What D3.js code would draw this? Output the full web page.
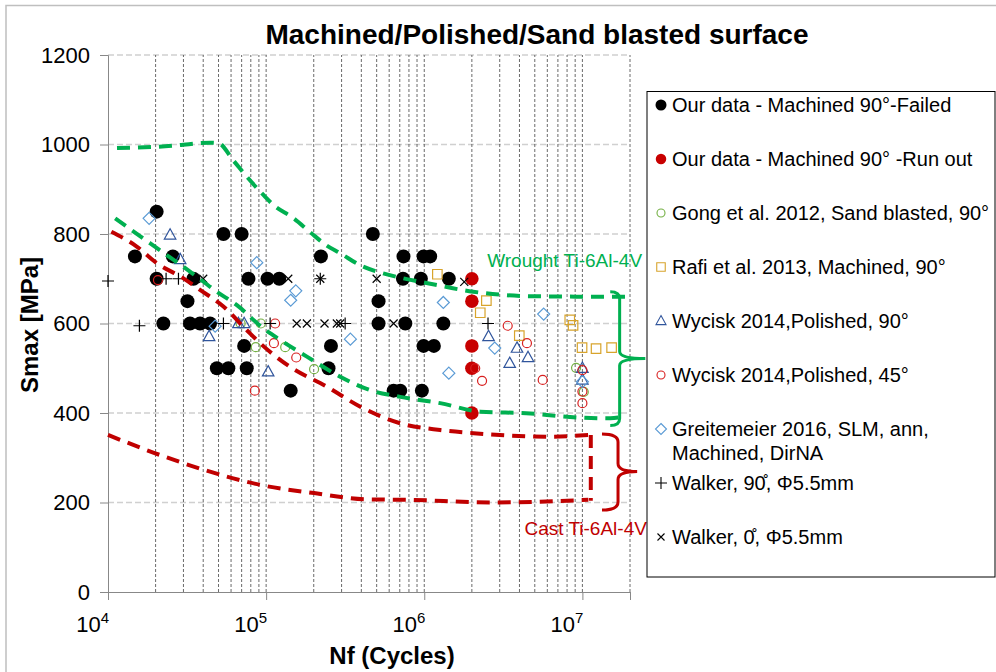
<!DOCTYPE html>
<html><head><meta charset="utf-8">
<script src="https://cdn.jsdelivr.net/npm/d3@7"></script>
<style>body{margin:0;background:#fff} svg{display:block;font-family:"Liberation Sans",Arial,sans-serif}</style>
</head><body><svg id="c" width="996" height="672"></svg>
<script>
// ---------- data (cycles, MPa) ----------
const ourFailed = [[2.03e4,850],[5.37e4,800],[7.0e4,800],[4.73e5,800],[1.48e4,750],[2.57e4,750],[2.22e5,750],[7.39e5,750],[9.9e5,750],[1.09e6,750],[2.03e4,700],[3.47e4,700],[7.73e4,700],[1.02e5,700],[1.21e5,700],[7.33e5,700],[9.52e5,700],[1.43e6,700],[3.18e4,650],[5.14e5,650],[2.24e4,600],[3.30e4,600],[3.82e4,600],[4.42e4,600],[5.14e5,600],[7.59e5,600],[1.32e6,600],[7.26e4,550],[2.57e5,550],[9.9e5,550],[1.15e6,550],[4.88e4,500],[5.77e4,500],[7.54e4,500],[2.48e5,500],[1.43e5,450],[6.4e5,450],[7.05e5,450],[9.66e5,450]];
const ourRunOut = [[2.0e6,700],[2.0e6,650],[2.0e6,550],[2.0e6,500],[2.0e6,400]];
const gong2012 = [[6.9e4,600],[9.25e4,600],[8.6e4,547],[1.32e5,547],[2.01e5,498],[9.12e6,501],[1.02e7,447]];
const rafi2013 = [[1.21e6,710],[2.47e6,651],[2.26e6,624],[3.99e6,573],[8.32e6,608],[8.73e6,596],[9.95e6,546],[1.22e7,544],[1.53e7,546]];
const wycisk90 = [[2.47e4,798],[2.86e4,743],[4.36e4,571],[6.68e4,600],[7.26e4,600],[1.03e5,492],[2.55e6,571],[3.86e6,545],[3.47e6,511],[4.53e6,524],[1.0e7,500],[1.0e7,474]];
const wycisk45 = [[2.07e4,697],[8.48e4,450],[1.14e5,600],[1.12e5,556],[1.55e5,524],[2.1e6,500],[2.32e6,472],[3.37e6,595],[4.46e6,556],[5.61e6,474],[1.0e7,496],[1.0e7,448],[1.0e7,422]];
const greitemeier2016 = [[1.82e4,835],[8.73e4,736],[4.76e4,594],[1.54e5,673],[1.43e5,652],[3.41e5,565],[1.32e6,647],[1.43e6,489],[2.79e6,545],[5.69e6,621],[1.0e7,470]];
const walker90 = [[1.0e4,695],[1.58e4,595],[2.33e4,700],[2.79e4,700],[5.37e4,600],[1.06e5,600],[2.2e5,700],[3.16e5,600],[2.53e6,600]];
const walker0 = [[4.0e4,700],[1.38e5,700],[2.2e5,700],[5.0e5,700],[1.79e6,693],[1.56e5,600],[1.81e5,600],[2.34e5,600],[2.8e5,600],[2.94e5,600],[6.4e5,600]];

// envelope curves
const wroughtUpper = [[1.14e4,992],[2.3e4,996],[4.43e4,1004],[4.99e4,1003],[6.18e4,965],[7.55e4,928],[9.86e4,883],[1.11e5,865],[1.48e5,836],[1.9e5,804],[2.42e5,774],[2.94e5,757],[3.94e5,730],[5.5e5,712],[7.36e5,701],[1.05e6,690],[2.04e6,671],[4.69e6,661],[1.08e7,660],[1.95e7,660]];
const wroughtLower = [[1.11e4,835],[1.85e4,779],[2.35e4,753],[3.3e4,716],[4.88e4,671],[6.53e4,641],[9.61e4,589],[1.23e5,563],[1.81e5,526],[2.94e5,481],[4.55e5,451],[7.05e5,436],[1.26e6,422],[2.26e6,403],[4.69e6,399],[7.6e6,392],[1.5e7,388],[1.82e7,392]];
const castUpper = [[1.05e4,805],[1.52e4,772],[2.03e4,735],[3.0e4,701],[3.82e4,675],[5.37e4,638],[7.55e4,585],[9.16e4,556],[1.42e5,503],[2.42e5,459],[3.94e5,414],[7.05e5,377],[1.26e6,362],[2.05e6,355],[5.98e6,347],[1.13e7,351]];
const castRight = [[1.13e7,351],[1.13e7,204]];
const castLower = [[1.0e4,351],[1.99e4,310],[4.05e4,273],[9.29e4,239],[2.01e5,221],[4.36e5,207],[7.93e5,206],[2.62e6,200],[1.09e7,206]];

const yTicks = [0,200,400,600,800,1000,1200];
const xDecades = [1e4,1e5,1e6,1e7];
const xExp = ["4","5","6","7"];

const legendLabels = [
  ["Our data - Machined 90°-Failed"],
  ["Our data - Machined 90° -Run out"],
  ["Gong et al. 2012, Sand blasted, 90°"],
  ["Rafi et al. 2013, Machined, 90°"],
  ["Wycisk 2014,Polished, 90°"],
  ["Wycisk 2014,Polished, 45°"],
  ["Greitemeier 2016, SLM, ann,","Machined, DirNA"],
  ["Walker, 90\u030A, Φ5.5mm"],
  ["Walker, 0\u030A, Φ5.5mm"]
];

// ---------- setup ----------
const svg = d3.select("#c");
const x = d3.scaleLog().domain([1e4, 2e7]).range([108, 630]);
const y = d3.scaleLinear().domain([0, 1200]).range([592, 55]);

// chart border
svg.append("rect").attr("x",6).attr("y",5.5).attr("width",1100).attr("height",800)
  .attr("fill","none").attr("stroke","#bfbfbf").attr("stroke-width",1.5);

// title
svg.append("text").attr("x",537).attr("y",44).attr("text-anchor","middle")
  .attr("font-size",28).attr("font-weight","bold").text("Machined/Polished/Sand blasted surface");

// gridlines
const vgrid = [];
for (let k=4;k<=7;k++) for (let m=1;m<=9;m++){ const v=m*Math.pow(10,k); if (v<=2e7*1.0001) vgrid.push(v); }
svg.append("g").selectAll("line").data(yTicks.filter(d=>d>0)).join("line")
  .attr("x1",x(1e4)).attr("x2",x(2e7)).attr("y1",d=>y(d)).attr("y2",d=>y(d))
  .attr("stroke","#d0d0d0").attr("stroke-width",1.5).attr("stroke-dasharray","6,3");
svg.append("g").selectAll("line").data(vgrid.filter(d=>d>1e4)).join("line")
  .attr("x1",d=>x(d)).attr("x2",d=>x(d)).attr("y1",y(0)).attr("y2",y(1200))
  .attr("stroke","#444").attr("stroke-width",0.8).attr("stroke-dasharray","3,2");

// axes
const gy = svg.append("g").attr("transform",`translate(${x(1e4)},0)`)
  .call(d3.axisLeft(y).tickValues(yTicks).tickSize(8).tickPadding(10).tickFormat(d3.format("d")));
gy.select(".domain").attr("stroke","#888");
gy.selectAll(".tick line").attr("stroke","#888");
gy.selectAll(".tick text").attr("font-size",22).attr("fill","#000").attr("font-family","Liberation Sans, Arial, sans-serif");

const gx = svg.append("g").attr("transform",`translate(0,${y(0)})`)
  .call(d3.axisBottom(x).tickValues(xDecades.concat([2e7])).tickSize(8).tickFormat(""));
gx.select(".domain").attr("stroke","#888");
gx.selectAll(".tick line").attr("stroke","#888");
const xl = svg.append("g").selectAll("text").data(xDecades).join("text")
  .attr("x",d=>x(d)+1).attr("y",632).attr("text-anchor","end").attr("font-size",22);
xl.append("tspan").text("10");
xl.append("tspan").attr("font-size",15).attr("dy",-9).text((d,i)=>xExp[i]);

// axis titles
svg.append("text").attr("transform",`translate(38,325) rotate(-90)`).attr("text-anchor","middle")
  .attr("font-size",24).attr("font-weight","bold").text("Smax [MPa]");
svg.append("text").attr("x",392).attr("y",664).attr("text-anchor","middle")
  .attr("font-size",24).attr("font-weight","bold").text("Nf (Cycles)");

// marker shapes
const shapes = {
  triangle: s => { const h=s*0.9; return `M0,${-h*0.6}L${s/2},${h*0.4}L${-s/2},${h*0.4}Z`; },
  diamond: s => `M0,${-s/2}L${s/2},0L0,${s/2}L${-s/2},0Z`,
  square: s => `M${-s/2},${-s/2}h${s}v${s}h${-s}Z`,
  plus: s => `M${-s/2},0H${s/2}M0,${-s/2}V${s/2}`,
  times: s => `M${-s/2},${-s/2}L${s/2},${s/2}M${s/2},${-s/2}L${-s/2},${s/2}`,
  circle: s => { const r=s/2; return `M${r},0A${r},${r} 0 1,1 ${-r},0A${r},${r} 0 1,1 ${r},0Z`; }
};
const series = [
  {data:ourFailed, shape:"circle", size:14, color:"#000", fill:true, lsize:11},
  {data:ourRunOut, shape:"circle", size:13.5, color:"#c80000", fill:true, lsize:10.5},
  {data:gong2012, shape:"circle", size:9, color:"#74b044", fill:false, lsize:8},
  {data:rafi2013, shape:"square", size:9.5, color:"#d8a42c", fill:false, lsize:8.5},
  {data:wycisk90, shape:"triangle", size:11.5, color:"#30559c", fill:false, lsize:10},
  {data:wycisk45, shape:"circle", size:9, color:"#d82020", fill:false, lsize:8},
  {data:greitemeier2016, shape:"diamond", size:12, color:"#5b9bd5", fill:false, lsize:11},
  {data:walker90, shape:"plus", size:12, color:"#000", fill:false, lsize:12},
  {data:walker0, shape:"times", size:8, color:"#000", fill:false, lsize:7}
];
const gm = svg.append("g");
series.forEach(s => {
  gm.append("g").selectAll("path").data(s.data).join("path")
    .attr("transform",d=>`translate(${x(d[0])},${y(d[1])})`)
    .attr("d",shapes[s.shape](s.size))
    .attr("fill",s.fill?s.color:"none").attr("stroke",s.color)
    .attr("stroke-width",s.fill?0:1.2);
});

// envelope curves
const line = d3.line().x(d=>x(d[0])).y(d=>y(d[1])).curve(d3.curveMonotoneX);
const lineV = d3.line().x(d=>x(d[0])).y(d=>y(d[1]));
const green = "#00b050", red = "#c00000";
[[wroughtUpper,green,line],[wroughtLower,green,line],[castUpper,red,line],[castRight,red,lineV],[castLower,red,line]].forEach(([d,c,l])=>{
  svg.append("path").attr("d",l(d)).attr("fill","none").attr("stroke",c)
    .attr("stroke-width",4).attr("stroke-dasharray","13,8");
});

// braces
function brace(xl, xm, xt, yt, ym, yb, r, color){
  const X=x(xl), M=x(xm), T=x(xt), YT=y(yt), YM=y(ym), YB=y(yb);
  const p = `M${X},${YT}Q${M},${YT} ${M},${YT+r}L${M},${YM-r}Q${M},${YM} ${T},${YM}`+
            `M${T},${YM}Q${M},${YM} ${M},${YM+r}L${M},${YB-r}Q${M},${YB} ${X},${YB}`;
  svg.append("path").attr("d",p).attr("fill","none").attr("stroke",color).attr("stroke-width",3);
}
brace(1.5e7,1.72e7,2.5e7,671,522,372,7,green);
brace(1.33e7,1.68e7,2.22e7,353,269,183,8,red);

// annotation texts
svg.append("text").attr("x",x(2.5e6)).attr("y",y(727)).attr("font-size",19).attr("fill",green).text("Wrought Ti-6Al-4V");
svg.append("text").attr("x",x(4.3e6)).attr("y",y(127)).attr("font-size",19).attr("fill",red).text("Cast Ti-6Al-4V");

// legend
const lg = svg.append("g");
lg.append("rect").attr("x",647).attr("y",91.5).attr("width",348).attr("height",485.5)
  .attr("fill","#fff").attr("stroke","#000").attr("stroke-width",1);
const rowY = [105,159,213,267,321,375,429,483,537];
series.forEach((s,i)=>{
  lg.append("path").attr("transform",`translate(661,${rowY[i]})`)
    .attr("d",shapes[s.shape](s.lsize))
    .attr("fill",s.fill?s.color:"none").attr("stroke",s.color).attr("stroke-width",s.fill?0:1.1);
  const lab = legendLabels[i];
  lg.append("text").attr("x",672).attr("y",rowY[i]+7).attr("font-size",20).text(lab[0]);
  if (lab.length>1)
    lg.append("text").attr("x",672).attr("y",rowY[i]+31).attr("font-size",20).text(lab[1]);
});
</script></body></html>
